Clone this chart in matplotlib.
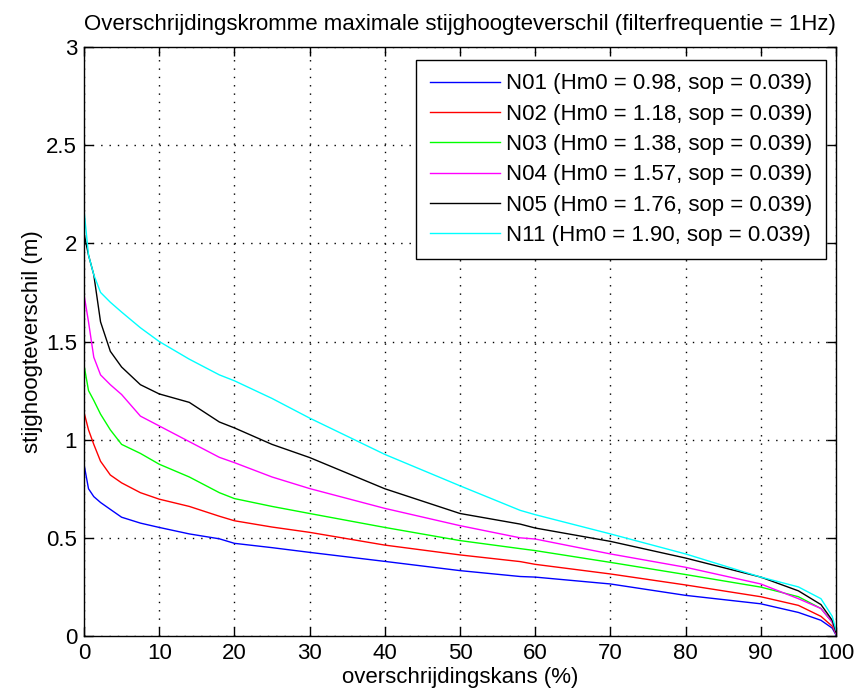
import matplotlib
matplotlib.use("Agg")
import matplotlib.pyplot as plt
import numpy as np

plt.rcParams['font.family'] = ['Liberation Sans', 'DejaVu Sans']

x = [0, 0.6, 1.3, 2.2, 3.5, 5, 7.5, 10, 14, 18, 20, 25, 30, 40, 50, 58, 60, 70, 80, 90, 95, 98, 99.5, 100]

n01 = [0.875, 0.75, 0.71, 0.68, 0.645, 0.605, 0.575, 0.553, 0.52, 0.495, 0.472, 0.45, 0.426, 0.38, 0.333, 0.303, 0.30, 0.265, 0.207, 0.164, 0.12, 0.08, 0.04, 0.005]
n02 = [1.14, 1.05, 0.976, 0.89, 0.82, 0.78, 0.73, 0.697, 0.66, 0.61, 0.587, 0.555, 0.528, 0.463, 0.413, 0.379, 0.365, 0.316, 0.26, 0.20, 0.156, 0.10, 0.05, 0.01]
n03 = [1.38, 1.25, 1.20, 1.13, 1.05, 0.976, 0.93, 0.875, 0.81, 0.73, 0.70, 0.66, 0.624, 0.553, 0.486, 0.445, 0.435, 0.375, 0.313, 0.249, 0.20, 0.14, 0.07, 0.01]
n04 = [1.74, 1.60, 1.42, 1.33, 1.28, 1.23, 1.12, 1.07, 0.99, 0.91, 0.883, 0.81, 0.751, 0.65, 0.562, 0.50, 0.494, 0.418, 0.35, 0.265, 0.19, 0.14, 0.07, 0.01]
n05 = [2.05, 1.94, 1.84, 1.60, 1.45, 1.37, 1.28, 1.233, 1.19, 1.09, 1.06, 0.976, 0.909, 0.75, 0.624, 0.57, 0.55, 0.482, 0.397, 0.30, 0.23, 0.16, 0.08, 0.02]
n11 = [2.17, 1.94, 1.84, 1.75, 1.70, 1.65, 1.57, 1.50, 1.41, 1.33, 1.30, 1.21, 1.11, 0.925, 0.765, 0.64, 0.618, 0.52, 0.418, 0.30, 0.25, 0.19, 0.10, 0.03]

labels = ["N01 (Hm0 = 0.98, sop = 0.039)",
          "N02 (Hm0 = 1.18, sop = 0.039)",
          "N03 (Hm0 = 1.38, sop = 0.039)",
          "N04 (Hm0 = 1.57, sop = 0.039)",
          "N05 (Hm0 = 1.76, sop = 0.039)",
          "N11 (Hm0 = 1.90, sop = 0.039)"]
colors = ['#0000ff', '#ff0000', '#00ff00', '#ff00ff', '#000000', '#00ffff']
series = [n01, n02, n03, n04, n05, n11]

xticks = [0, 10, 20, 30, 40, 50, 60, 70, 80, 90, 100]
yticks = [0, 0.5, 1, 1.5, 2, 2.5, 3]
yticklabels = ['0', '0.5', '1', '1.5', '2', '2.5', '3']

FS = 16

fig = plt.figure(figsize=(8.55, 7.0), dpi=100)
ax = fig.add_axes([84/855, 64/700, 752/855, 589/700])

for s, c, l in zip(series, colors, labels):
    ax.plot(x, s, color=c, lw=1.0, label=l)

ax.set_xlim(0, 100)
ax.set_ylim(0, 3)
ax.set_xticks(xticks)
ax.set_yticks(yticks)
ax.set_yticklabels(yticklabels)
ax.grid(True, color='black', linestyle=(0, (1, 5)), linewidth=1.0)
ax.tick_params(direction='in', top=True, right=True, labelsize=FS, length=6.5, width=1)
ax.tick_params(axis='x', pad=5)
ax.tick_params(axis='y', pad=5)
for sp in ax.spines.values():
    sp.set_linewidth(1.0)

ax.set_title("Overschrijdingskromme maximale stijghoogteverschil (filterfrequentie = 1Hz)", fontsize=FS, pad=12)
ax.set_xlabel("overschrijdingskans (%)", fontsize=FS, labelpad=2)
ax.set_ylabel("stijghoogteverschil (m)", fontsize=FS, labelpad=2)

leg = ax.legend(loc='upper right', bbox_to_anchor=(0.9867, 0.978), borderaxespad=0,
                fontsize=FS, handlelength=3.15, labelspacing=0.42, fancybox=False,
                framealpha=1, edgecolor='black', borderpad=0.6, handletextpad=0.3)
leg.get_frame().set_linewidth(1.0)

fig.savefig("out.png", dpi=100)
